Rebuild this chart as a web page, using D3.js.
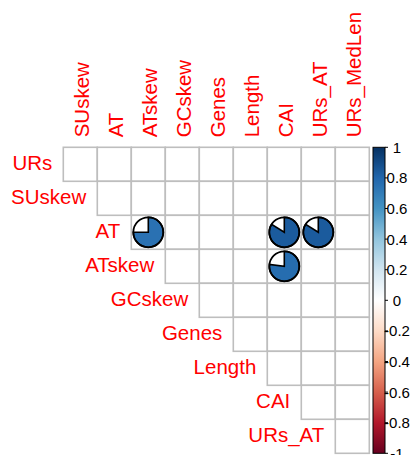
<!DOCTYPE html>
<html><head><meta charset="utf-8">
<script src="https://cdn.jsdelivr.net/npm/d3@7"></script>
<style>body{margin:0;background:#fff}svg{display:block}</style>
</head><body>
<script>
const rowLabels = ["URs","SUskew","AT","ATskew","GCskew","Genes","Length","CAI","URs_AT"];
const colLabels = ["SUskew","AT","ATskew","GCskew","Genes","Length","CAI","URs_AT","URs_MedLen"];
// significant correlations drawn as pies
const pieRows = ["AT","AT","AT","ATskew"];
const pieCols = ["ATskew","CAI","URs_AT","CAI"];
const pieValues = [0.75,0.84,0.84,0.77];
const legendTicks = [1,0.8,0.6,0.4,0.2,0,-0.2,-0.4,-0.6,-0.8,-1];
const paletteStops = [-1,-0.8,-0.6,-0.4,-0.2,0,0.2,0.4,0.6,0.8,1];
const paletteColors = ["#67001F","#B2182B","#D6604D","#F4A582","#FDDBC7","#FFFFFF","#D1E5F0","#92C5DE","#4393C3","#2166AC","#053061"];

const W=410,H=455;
const svg=d3.select("body").append("svg").attr("width",W).attr("height",H);
const x0=63.3,y0=147.3,cs=34;
const x=d3.scaleBand().domain(colLabels).range([x0,x0+cs*colLabels.length]);
const y=d3.scaleBand().domain(rowLabels).range([y0,y0+cs*rowLabels.length]);
const color=d3.scaleLinear().domain(paletteStops).range(paletteColors).interpolate(d3.interpolateRgb);

// cells (upper triangle)
const cells=[];
rowLabels.forEach((r,i)=>colLabels.forEach((c,j)=>{if(j>=i)cells.push({r,c});}));
svg.append("g").selectAll("rect").data(cells).join("rect")
 .attr("x",d=>x(d.c)).attr("y",d=>y(d.r)).attr("width",x.bandwidth()).attr("height",y.bandwidth())
 .attr("fill","#fff").attr("stroke","#bebebe").attr("stroke-width",1.6);

// row labels
svg.append("g").selectAll("text").data(rowLabels).join("text")
 .attr("x",(d,i)=>x(colLabels[i])-11).attr("y",d=>y(d)+y.bandwidth()/2+6)
 .attr("text-anchor","end").attr("fill","#ff0000")
 .style("font-family","Liberation Sans, Arial, sans-serif").style("font-size","20.5px").text(d=>d);

// col labels
svg.append("g").selectAll("text").data(colLabels).join("text")
 .attr("transform",d=>`translate(${x(d)+x.bandwidth()/2+8.5},${y0-10}) rotate(-90)`)
 .attr("text-anchor","start").attr("fill","#ff0000")
 .style("font-family","Liberation Sans, Arial, sans-serif").style("font-size","20.5px").text(d=>d);

// pies
const rP=15;
const pies=pieValues.map((v,i)=>({r:pieRows[i],c:pieCols[i],v}));
const pg=svg.append("g").selectAll("g").data(pies).join("g")
 .attr("transform",d=>`translate(${x(d.c)+x.bandwidth()/2},${y(d.r)+y.bandwidth()/2})`);
pg.append("circle").attr("r",rP).attr("fill","#fff");
pg.append("path").attr("d",d=>d3.arc().innerRadius(0).outerRadius(rP).startAngle(0).endAngle(2*Math.PI*d.v)())
 .attr("fill",d=>color(d.v)).attr("stroke","#000").attr("stroke-width",1.6).attr("stroke-linejoin","miter");
pg.append("circle").attr("r",rP).attr("fill","none").attr("stroke","#000").attr("stroke-width",1.8);

// color legend
const lx=373,lw=12,ly0=y0,ly1=y0+cs*rowLabels.length;
const defs=svg.append("defs");
const grad=defs.append("linearGradient").attr("id","cg").attr("x1",0).attr("y1",1).attr("x2",0).attr("y2",0);
paletteStops.forEach((s,i)=>grad.append("stop").attr("offset",(s+1)/2).attr("stop-color",paletteColors[i]));
svg.append("rect").attr("x",lx).attr("y",ly0).attr("width",lw).attr("height",ly1-ly0)
 .attr("fill","url(#cg)").attr("stroke","#000").attr("stroke-width",1);
const ly=d3.scaleLinear().domain([1,-1]).range([ly0,ly1]);
svg.append("g").selectAll("line").data(legendTicks).join("line")
 .attr("x1",lx+lw).attr("x2",lx+lw+3).attr("y1",d=>ly(d)).attr("y2",d=>ly(d)).attr("stroke","#000").attr("stroke-width",1);
svg.append("g").selectAll("text").data(legendTicks).join("text")
 .attr("x",397).attr("y",d=>ly(d)+5.5).attr("text-anchor","middle").attr("fill","#000")
 .style("font-family","Liberation Sans, Arial, sans-serif").style("font-size","15px").text(d=>String(d));
</script>
</body></html>
